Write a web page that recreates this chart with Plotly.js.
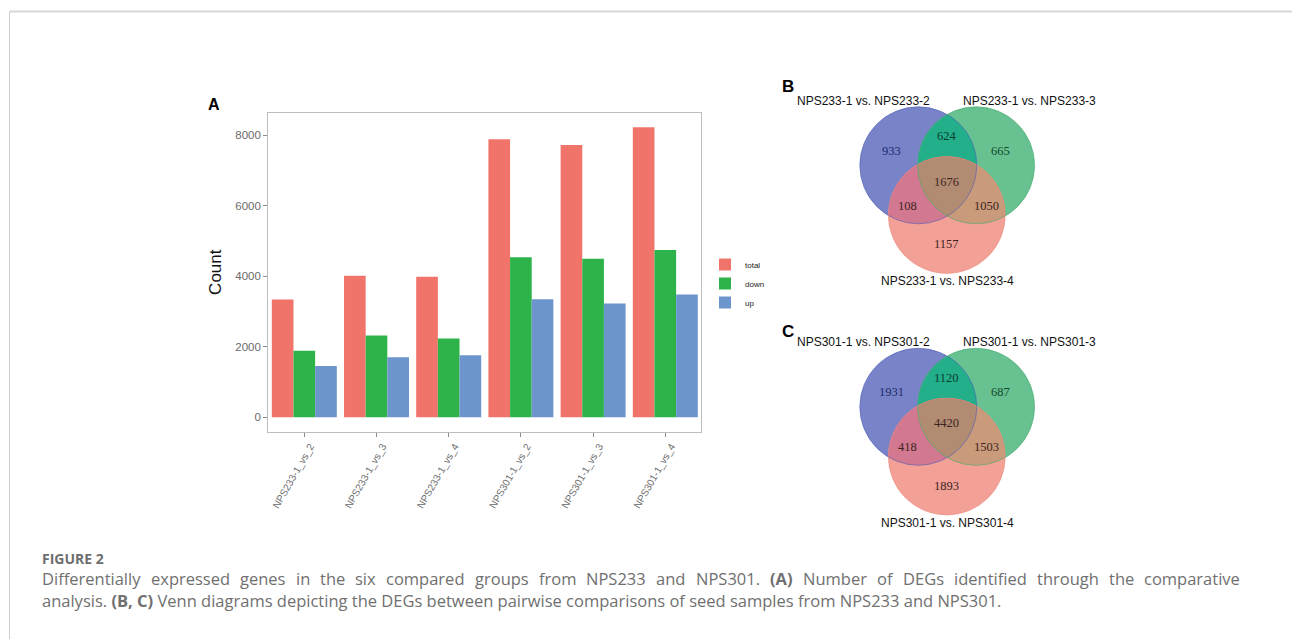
<!DOCTYPE html>
<html>
<head>
<meta charset="utf-8">
<script src="https://cdn.plot.ly/plotly-3.0.1.min.js"></script>
<style>
  html,body{margin:0;padding:0;background:#fff;}
  #chart{width:1292px;height:639px;}
</style>
</head>
<body>
<div id="chart"></div>
<script>
// ---------------- DATA ----------------
const categories = ["NPS233-1_vs_2","NPS233-1_vs_3","NPS233-1_vs_4","NPS301-1_vs_2","NPS301-1_vs_3","NPS301-1_vs_4"];
const seriesNames = ["total","down","up"];
const totalCounts = [3341, 4015, 3991, 7889, 7730, 8234];
const downCounts  = [1886, 2318, 2233, 4539, 4502, 4749];
const upCounts    = [1455, 1702, 1759, 3348, 3225, 3481];
const yTickVals = [0, 2000, 4000, 6000, 8000];

const vennBSets = ["NPS233-1 vs. NPS233-2", "NPS233-1 vs. NPS233-3", "NPS233-1 vs. NPS233-4"];
// region order: A only, AB, B only, ABC, AC, BC, C only
const vennBCounts = [933, 624, 665, 1676, 108, 1050, 1157];
const vennCSets = ["NPS301-1 vs. NPS301-2", "NPS301-1 vs. NPS301-3", "NPS301-1 vs. NPS301-4"];
const vennCCounts = [1931, 1120, 687, 4420, 418, 1503, 1893];

const captionHead = "FIGURE 2";
const captionLine1 = "Differentially expressed genes in the six compared groups from NPS233 and NPS301. <b>(A)</b> Number of DEGs identified through the comparative";
const captionLine2 = "analysis. <b>(B, C)</b> Venn diagrams depicting the DEGs between pairwise comparisons of seed samples from NPS233 and NPS301.";

// ---------------- LAYOUT HELPERS ----------------
const W = 1292, H = 639;
const px = x => x / W;
const py = y => 1 - y / H;

const barColors = ["#F1746B", "#2EB34B", "#6C95CD"];

const traces = [totalCounts, downCounts, upCounts].map((vals, i) => ({
  type: "bar",
  name: seriesNames[i],
  x: categories,
  y: vals,
  marker: {color: barColors[i], line: {width: 0}},
  hoverinfo: "x+y+name"
}));

const shapes = [];
const annotations = [];

// page frame lines
shapes.push({type:"line", xref:"paper", yref:"paper", x0:px(9.5), x1:px(1292), y0:py(11.5), y1:py(11.5), line:{color:"#d6d6d6", width:2}});
shapes.push({type:"line", xref:"paper", yref:"paper", x0:px(9.5), x1:px(9.5), y0:py(11.5), y1:py(639), line:{color:"#cfcfcf", width:1}});

// panel letters
annotations.push({xref:"paper", yref:"paper", x:px(214), y:py(104), text:"<b>A</b>", showarrow:false, font:{family:"Liberation Sans, Arial", size:16, color:"#000"}, xanchor:"center", yanchor:"middle"});
annotations.push({xref:"paper", yref:"paper", x:px(788), y:py(87), text:"<b>B</b>", showarrow:false, font:{family:"Liberation Sans, Arial", size:17, color:"#000"}, xanchor:"center", yanchor:"middle"});
annotations.push({xref:"paper", yref:"paper", x:px(788), y:py(332), text:"<b>C</b>", showarrow:false, font:{family:"Liberation Sans, Arial", size:17, color:"#000"}, xanchor:"center", yanchor:"middle"});

// ---------------- VENN ----------------
const R = 58.5;
const vennFill = {
  A: "#7884C7", B: "#67C190", C: "#F3A196",
  AB: "#22AF8A", AC: "#D27890", BC: "#CA9B7B", ABC: "#B28B73"
};
const vennEdge = {A: "rgba(80,95,185,0.75)", B: "rgba(70,170,110,0.75)", C: "rgba(235,130,120,0.6)"};
const countColors = ["#1d2a6b", "#0f3d2f", "#124a2c", "#3b2420", "#3b2420", "#3b2420", "#3b2420"];

function inside(p, c) { return Math.hypot(p[0]-c[0], p[1]-c[1]) <= R + 1e-6; }
function intersectionPoly(circles) {
  const pts = [];
  const N = 360;
  circles.forEach((c, i) => {
    for (let k = 0; k < N; k++) {
      const a = 2*Math.PI*k/N;
      const p = [c[0] + R*Math.cos(a), c[1] + R*Math.sin(a)];
      if (circles.every((o, j) => j === i || inside(p, o))) pts.push(p);
    }
  });
  const cx = pts.reduce((s,p)=>s+p[0],0)/pts.length;
  const cy = pts.reduce((s,p)=>s+p[1],0)/pts.length;
  pts.sort((p,q)=>Math.atan2(p[1]-cy,p[0]-cx)-Math.atan2(q[1]-cy,q[0]-cx));
  return "M" + pts.map(p => px(p[0]).toFixed(6) + "," + py(p[1]).toFixed(6)).join("L") + "Z";
}

function drawVenn(ox, oy, sets, counts) {
  const cA = [ox - 28.9, oy], cB = [ox + 28.9, oy], cC = [ox - 0.4, oy + 49.7];
  const circ = (c, fill) => ({type:"circle", xref:"paper", yref:"paper", x0:px(c[0]-R), x1:px(c[0]+R), y0:py(c[1]+R), y1:py(c[1]-R), fillcolor:fill, line:{width:0}, layer:"above"});
  shapes.push(circ(cA, vennFill.A));
  shapes.push(circ(cB, vennFill.B));
  shapes.push(circ(cC, vennFill.C));
  shapes.push({type:"path", xref:"paper", yref:"paper", path:intersectionPoly([cA,cB]), fillcolor:vennFill.AB, line:{width:0}});
  shapes.push({type:"path", xref:"paper", yref:"paper", path:intersectionPoly([cA,cC]), fillcolor:vennFill.AC, line:{width:0}});
  shapes.push({type:"path", xref:"paper", yref:"paper", path:intersectionPoly([cB,cC]), fillcolor:vennFill.BC, line:{width:0}});
  shapes.push({type:"path", xref:"paper", yref:"paper", path:intersectionPoly([cA,cB,cC]), fillcolor:vennFill.ABC, line:{width:0}});
  [[cA,vennEdge.A],[cB,vennEdge.B],[cC,vennEdge.C]].forEach(([c,col]) => {
    shapes.push({type:"circle", xref:"paper", yref:"paper", x0:px(c[0]-R), x1:px(c[0]+R), y0:py(c[1]+R), y1:py(c[1]-R), fillcolor:"rgba(0,0,0,0)", line:{color:col, width:0.8}});
  });
  // region label offsets (layout)
  const offs = [[-55.5,-14.5],[-0.5,-29],[53.5,-14.5],[-0.5,16.5],[-40,40.3],[39.5,40.3],[-0.5,78.8]];
  counts.forEach((v, i) => {
    annotations.push({xref:"paper", yref:"paper", x:px(ox+offs[i][0]), y:py(oy+offs[i][1]), text:String(v), showarrow:false,
      font:{family:"Liberation Serif, Times New Roman", size:12.5, color:countColors[i]}, xanchor:"center", yanchor:"middle"});
  });
  const labelPos = [[863, -64.6], [1029, -64.6], [947.5, 115.7]];
  sets.forEach((s, i) => {
    annotations.push({xref:"paper", yref:"paper", x:px(labelPos[i][0]), y:py(oy+labelPos[i][1]), text:s, showarrow:false,
      font:{family:"Liberation Sans, Arial", size:12, color:"#111"}, xanchor:"center", yanchor:"middle"});
  });
}
drawVenn(947.2, 165.3, vennBSets, vennBCounts);
drawVenn(947.2, 406.8, vennCSets, vennCCounts);

// ---------------- CAPTION ----------------
const capFamily = "Open Sans";
const capSize = 16.5;
const capColor = "#707070";
const capLeft = 40, capRight = 1238;
annotations.push({xref:"paper", yref:"paper", x:px(capLeft), y:py(558), text:"<b>"+captionHead+"</b>", showarrow:false, xanchor:"left", yanchor:"middle", font:{family:capFamily, size:14, color:"#6e6e6e"}});

const mctx = document.createElement("canvas").getContext("2d");
function measureWord(t, bold) {
  mctx.font = (bold ? "bold " : "") + capSize + "px '" + capFamily + "'";
  return mctx.measureText(t).width;
}
// justified first line: words placed one by one
(function () {
  const words = captionLine1.split(" ").map(w => {
    const bold = w.indexOf("<b>") >= 0;
    return {html: w, plain: w.replace(/<\/?b>/g, ""), bold: bold};
  });
  const widths = words.map(w => measureWord(w.plain, w.bold));
  const total = widths.reduce((a, b) => a + b, 0);
  const gap = (capRight - capLeft - total) / (words.length - 1);
  let x = capLeft;
  words.forEach((w, i) => {
    annotations.push({xref:"paper", yref:"paper", x:px(x), y:py(578), text:w.html, showarrow:false, xanchor:"left", yanchor:"middle",
      font:{family:capFamily, size:capSize, color:capColor}});
    x += widths[i] + gap;
  });
})();
annotations.push({xref:"paper", yref:"paper", x:px(capLeft), y:py(600.5), text:captionLine2, showarrow:false, xanchor:"left", yanchor:"middle", font:{family:capFamily, size:capSize, color:capColor}});

// ---------------- LAYOUT ----------------
const layout = {
  width: W, height: H,
  margin: {l:0, r:0, t:0, b:0, pad:0},
  paper_bgcolor: "#ffffff",
  plot_bgcolor: "#ffffff",
  barmode: "group",
  bargap: 0.1,
  bargroupgap: 0,
  showlegend: true,
  legend: {x: px(705), y: py(250), xanchor:"left", yanchor:"top", font:{family:"Liberation Sans, Arial", size:8, color:"#222"}, bgcolor:"rgba(0,0,0,0)", tracegroupgap:0},
  font: {family: "Liberation Sans, Arial"},
  xaxis: {
    domain: [px(268.2), px(701.4)],
    type: "category",
    showline: true, mirror: true, linecolor: "#bdbdbd", linewidth: 1,
    showgrid: false, zeroline: false,
    ticks: "outside", ticklen: 4, tickcolor: "#8c8c8c", tickwidth: 1,
    tickangle: -60,
    ticklabelshift: 6,
    tickfont: {family:"Liberation Sans, Arial", size:10, color:"#6b6b6b"},
    fixedrange: true
  },
  yaxis: {
    domain: [py(431.7), py(112.7)],
    range: [-411.7, 8645.7],
    showline: true, mirror: true, linecolor: "#bdbdbd", linewidth: 1,
    showgrid: false, zeroline: false,
    tickvals: yTickVals,
    ticktext: yTickVals.map(String),
    ticks: "outside", ticklen: 4, tickcolor: "#8c8c8c", tickwidth: 1,
    tickfont: {family:"Liberation Sans, Arial", size:11.5, color:"#6b6b6b"},
    title: {text: "Count", font: {family:"Liberation Sans, Arial", size:17, color:"#111"}, standoff: 9},
    fixedrange: true
  },
  shapes: shapes,
  annotations: annotations
};

Plotly.newPlot("chart", traces, layout, {displayModeBar:false, staticPlot:true});
</script>
</body>
</html>
